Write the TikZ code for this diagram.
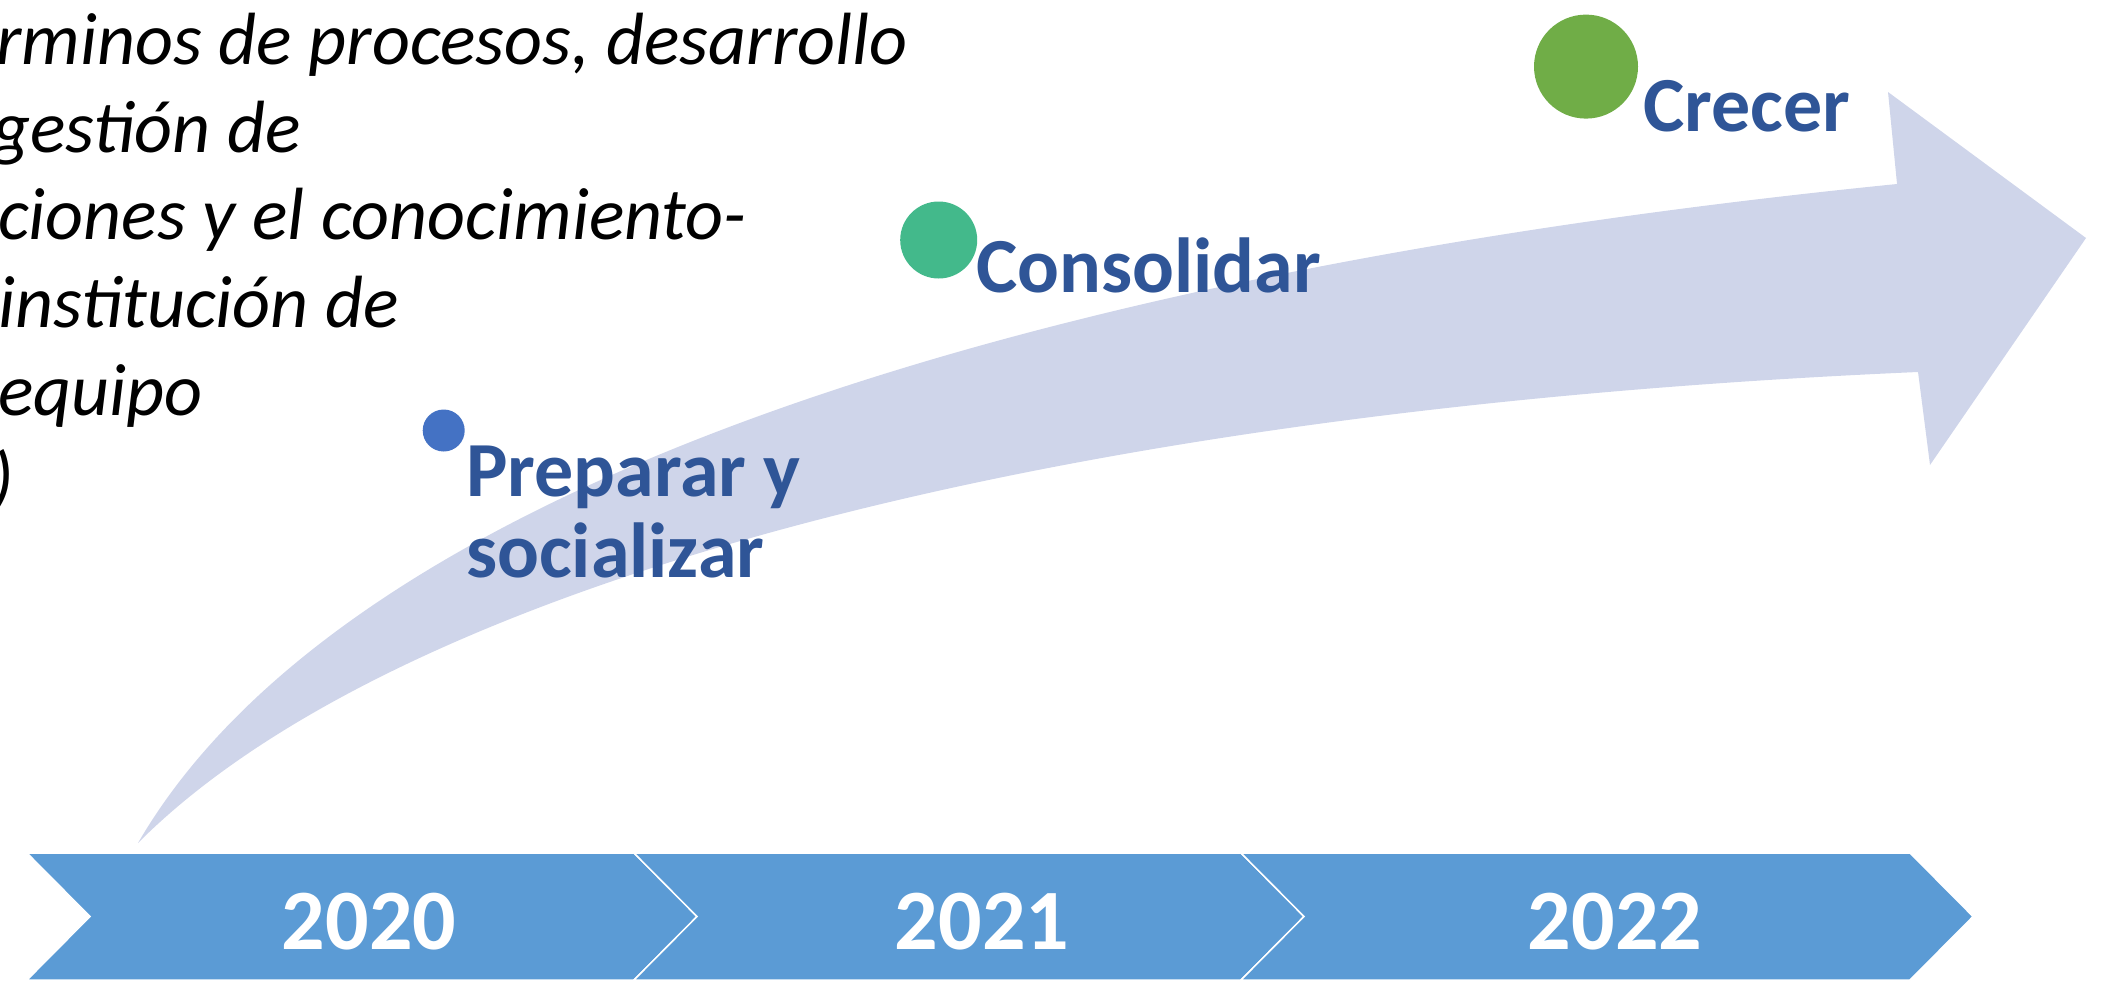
\documentclass[tikz,border=0pt]{standalone}
\usepackage{fontspec}
\setmainfont{Carlito}
\definecolor{arrowfill}{RGB}{207,213,234}
\definecolor{chevblue}{RGB}{91,155,213}
\definecolor{labelblue}{RGB}{47,85,151}
\definecolor{dotblue}{RGB}{68,114,196}
\definecolor{dotteal}{RGB}{67,185,139}
\definecolor{dotgreen}{RGB}{112,173,71}
\begin{document}
\begin{tikzpicture}[x=1pt,y=-1pt,
  bodytext/.style={anchor=base west, inner sep=0pt, font=\fontsize{74}{88}\selectfont\itshape},
  stagelabel/.style={anchor=base west, inner sep=0pt, text=labelblue, font=\fontsize{78}{81}\selectfont\bfseries},
  stagedot/.style={circle, inner sep=0pt, draw=none},
  yearlabel/.style={anchor=center, inner sep=0pt, text=white, font=\fontsize{86}{90}\selectfont\bfseries},
  chevron/.style={fill=chevblue, draw=white, line width=1.5pt, line join=miter}]
\useasboundingbox (0,0) rectangle (2101,980);
% curved arrow
\coordinate (tail) at (138,843);
\fill[arrowfill] (tail) .. controls (340,495) and (1000,274) .. (1897,184)
  -- (1888,92) -- (2086,238) -- (1930,465) -- (1918,372)
  .. controls (1000,412) and (380,600) .. (tail) -- cycle;
% chevrons
\draw[chevron] (27,853) -- (634,853) -- (697,916.5) -- (634,980) -- (27,980) -- (90,916.5) -- cycle;
\draw[chevron] (634,853) -- (1241,853) -- (1304,916.5) -- (1241,980) -- (634,980) -- (697,916.5) -- cycle;
\draw[chevron] (1241,853) -- (1910,853) -- (1973,916.5) -- (1910,980) -- (1241,980) -- (1304,916.5) -- cycle;
\node[yearlabel] (y2020) at (369,922) {2020};
\node[yearlabel] (y2021) at (982,922) {2021};
\node[yearlabel] (y2022) at (1615,922) {2022};
% body text (cut at the left edge)
\node[bodytext] (t1) at (-4,64) {rminos de procesos, desarrollo};
\node[bodytext] (t2) at (-8,152) {gestión de};
\node[bodytext] (t3) at (-2,239) {ciones y el conocimiento-};
\node[bodytext] (t4) at (-2,327) {institución de};
\node[bodytext] (t5) at (-2,415) {equipo};
\node[bodytext] (t6) at (-9,503) {)};
% stages
\node[stagedot, fill=dotblue, minimum size=42pt] (d1) at (443.7,430.5) {};
\node[stagelabel] (s1a) at (466,496) {Preparar y};
\node[stagelabel] (s1b) at (466,577) {socializar};
\node[stagedot, fill=dotteal, minimum size=77pt] (d2) at (938.7,240) {};
\node[stagelabel] (s2) at (976,292) {Consolidar};
\node[stagedot, fill=dotgreen, minimum size=104pt] (d3) at (1586,66.6) {};
\node[stagelabel] (s3) at (1643,131.5) {Crecer};
\end{tikzpicture}
\end{document}
